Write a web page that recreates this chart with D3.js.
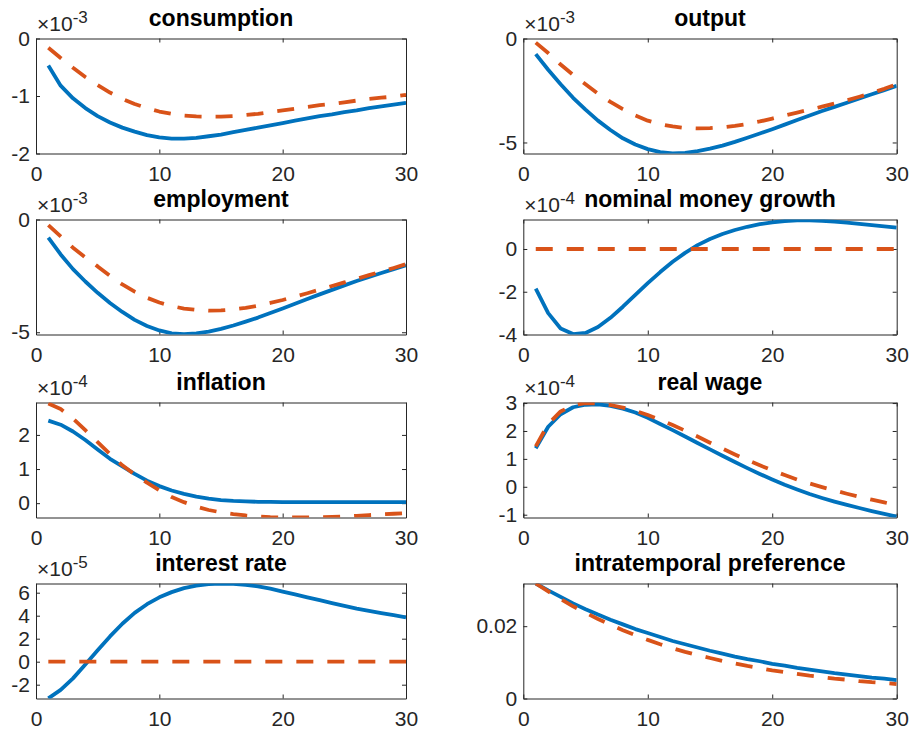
<!DOCTYPE html>
<html>
<head>
<meta charset="utf-8">
<script src="https://cdn.jsdelivr.net/npm/d3@7"></script>
<style>
  body { margin: 0; background: #ffffff; }
  svg { display: block; font-family: "Liberation Sans", Arial, Helvetica, sans-serif; }
</style>
</head>
<body>
<svg id="fig" width="910" height="731"></svg>
<script>
// Impulse responses over 30 periods, two model variants per panel
const periods = [1,2,3,4,5,6,7,8,9,10,11,12,13,14,15,16,17,18,19,20,21,22,23,24,25,26,27,28,29,30];
const xTicks = [0, 10, 20, 30];

const panelTitles = ["consumption", "output", "employment", "nominal money growth",
                     "inflation", "real wage", "interest rate", "intratemporal preference"];
// power-of-ten multiplier shown above each y axis (null = none)
const exponents = [-3, -3, -3, -4, -4, -4, -5, null];
const yLimits = [[-2, 0], [-5.53, 0], [-5.1, 0], [-4.0, 1.38],
                 [-0.42, 2.95], [-1.1, 3.02], [-3.2, 6.8], [0, 0.0318]];
const yTicks = [[-2, -1, 0], [-5, 0], [-5, 0], [-4, -2, 0],
                [0, 1, 2], [-1, 0, 1, 2, 3], [-2, 0, 2, 4, 6], [0, 0.02]];

// solid = first variant, dashed = second variant (values in axis units)
const consumptionSolid = [-0.47,-0.82,-1.04,-1.21,-1.35,-1.46,-1.55,-1.62,-1.68,-1.72,-1.74,-1.74,-1.73,-1.70,-1.67,-1.63,-1.59,-1.55,-1.51,-1.47,-1.43,-1.39,-1.35,-1.32,-1.28,-1.25,-1.21,-1.18,-1.15,-1.12];
const consumptionDashed = [-0.16,-0.34,-0.51,-0.67,-0.81,-0.94,-1.05,-1.14,-1.21,-1.27,-1.31,-1.34,-1.355,-1.36,-1.36,-1.35,-1.33,-1.31,-1.28,-1.25,-1.22,-1.19,-1.16,-1.14,-1.11,-1.08,-1.05,-1.03,-1.01,-0.98];

const outputSolid = [-0.75,-1.5,-2.2,-2.85,-3.42,-3.95,-4.4,-4.8,-5.1,-5.32,-5.46,-5.52,-5.5,-5.42,-5.3,-5.15,-4.97,-4.77,-4.57,-4.36,-4.14,-3.92,-3.7,-3.49,-3.29,-3.09,-2.88,-2.68,-2.48,-2.28];
const outputDashed = [-0.2,-0.7,-1.25,-1.75,-2.2,-2.65,-3.05,-3.4,-3.7,-3.95,-4.12,-4.23,-4.3,-4.32,-4.31,-4.27,-4.2,-4.11,-3.99,-3.85,-3.7,-3.56,-3.42,-3.28,-3.13,-2.97,-2.8,-2.62,-2.42,-2.2];

const employmentSolid = [-0.8,-1.55,-2.2,-2.75,-3.25,-3.7,-4.1,-4.45,-4.72,-4.92,-5.05,-5.08,-5.05,-4.97,-4.85,-4.7,-4.53,-4.35,-4.15,-3.95,-3.74,-3.53,-3.32,-3.12,-2.92,-2.73,-2.55,-2.37,-2.2,-2.03];
const employmentDashed = [-0.25,-0.75,-1.25,-1.68,-2.08,-2.5,-2.88,-3.2,-3.47,-3.68,-3.84,-3.95,-4.01,-4.04,-4.03,-3.99,-3.92,-3.82,-3.7,-3.57,-3.42,-3.27,-3.11,-2.95,-2.79,-2.63,-2.47,-2.31,-2.15,-1.98];

const moneyGrowthSolid = [-1.85,-3.0,-3.72,-3.98,-3.93,-3.65,-3.22,-2.7,-2.15,-1.6,-1.08,-0.6,-0.18,0.18,0.47,0.7,0.89,1.04,1.16,1.25,1.31,1.34,1.34,1.32,1.28,1.23,1.18,1.12,1.06,1.0];
const moneyGrowthDashed = [0,0,0,0,0,0,0,0,0,0,0,0,0,0,0,0,0,0,0,0,0,0,0,0,0,0,0,0,0,0];

const inflationSolid = [2.42,2.3,2.1,1.85,1.57,1.3,1.08,0.86,0.66,0.5,0.37,0.27,0.19,0.13,0.09,0.065,0.05,0.04,0.035,0.03,0.03,0.03,0.03,0.03,0.03,0.03,0.03,0.03,0.03,0.03];
const inflationDashed = [2.92,2.76,2.48,2.14,1.79,1.44,1.11,0.84,0.6,0.38,0.18,0.03,-0.1,-0.2,-0.27,-0.32,-0.36,-0.39,-0.41,-0.42,-0.42,-0.42,-0.41,-0.4,-0.39,-0.37,-0.35,-0.33,-0.31,-0.29];

const realWageSolid = [1.38,2.15,2.6,2.85,2.94,2.95,2.9,2.8,2.66,2.47,2.25,2.03,1.8,1.57,1.34,1.11,0.89,0.67,0.46,0.26,0.07,-0.1,-0.26,-0.4,-0.53,-0.65,-0.76,-0.87,-0.97,-1.07];
const realWageDashed = [1.45,2.25,2.7,2.92,3.0,2.98,2.93,2.84,2.72,2.57,2.4,2.21,2.01,1.8,1.58,1.37,1.16,0.96,0.77,0.59,0.42,0.26,0.12,-0.01,-0.13,-0.25,-0.36,-0.46,-0.56,-0.66];

const interestSolid = [-3.19,-2.45,-1.45,-0.25,1.0,2.2,3.3,4.25,5.0,5.6,6.05,6.4,6.62,6.75,6.8,6.77,6.68,6.55,6.35,6.1,5.85,5.6,5.35,5.1,4.85,4.62,4.42,4.22,4.04,3.86];
const interestDashed = [0,0,0,0,0,0,0,0,0,0,0,0,0,0,0,0,0,0,0,0,0,0,0,0,0,0,0,0,0,0];

const preferenceSolid = [0.0318,0.0299,0.0281,0.0263,0.0247,0.0232,0.0218,0.0205,0.0192,0.0181,0.0170,0.0159,0.0150,0.0141,0.0132,0.0124,0.0116,0.0109,0.0103,0.0096,0.0091,0.0085,0.0080,0.0075,0.0070,0.0066,0.0062,0.0058,0.0055,0.0051];
const preferenceDashed = [0.0318,0.0296,0.0275,0.0255,0.0237,0.0220,0.0204,0.0189,0.0175,0.0162,0.0150,0.0139,0.0129,0.0120,0.0112,0.0104,0.0097,0.0090,0.0084,0.0078,0.0073,0.0068,0.0063,0.0059,0.0055,0.0052,0.0048,0.0045,0.0043,0.0040];

const solidSeries = [consumptionSolid, outputSolid, employmentSolid, moneyGrowthSolid,
                     inflationSolid, realWageSolid, interestSolid, preferenceSolid];
const dashedSeries = [consumptionDashed, outputDashed, employmentDashed, moneyGrowthDashed,
                      inflationDashed, realWageDashed, interestDashed, preferenceDashed];

// ---- layout: 4 rows x 2 columns of boxed axes ----
const colLeft = [36, 523.3];
const colRight = [406, 896.7];
const rowTop = [38.5, 219.5, 402.5, 583.5];
const axH = 115;

const axisColor = "#262626";
const blue = "#0072BD";
const orange = "#D95319";
const tickLen = 4;

const svg = d3.select("#fig");
const defs = svg.append("defs");

function styleAxis(g, withLabels) {
  g.attr("font-family", null).attr("font-size", null);
  g.select(".domain").attr("stroke", axisColor).attr("stroke-width", 1);
  g.selectAll(".tick line").attr("stroke", axisColor).attr("stroke-width", 1);
  g.selectAll(".tick text")
    .attr("fill", axisColor)
    .style("font-size", "21px");
  if (!withLabels) g.selectAll(".tick text").remove();
}

function fmt(v) {
  return String(v);
}

panelTitles.forEach((title, i) => {
  const col = i % 2, row = Math.floor(i / 2);
  const x0 = colLeft[col], x1 = colRight[col];
  const y0 = rowTop[row], y1 = y0 + axH;

  const x = d3.scaleLinear().domain([0, 30]).range([x0, x1]);
  const y = d3.scaleLinear().domain(yLimits[i]).range([y1, y0]);

  const panel = svg.append("g").attr("class", "panel");

  // box with inward ticks on all four sides
  panel.append("g").attr("transform", `translate(0,${y1})`)
    .call(d3.axisBottom(x).tickValues(xTicks).tickFormat(fmt)
      .tickSizeInner(-tickLen).tickSizeOuter(0).tickPadding(13))
    .call(g => styleAxis(g, true));
  panel.append("g").attr("transform", `translate(0,${y0})`)
    .call(d3.axisTop(x).tickValues(xTicks).tickFormat("")
      .tickSizeInner(-tickLen).tickSizeOuter(0))
    .call(g => styleAxis(g, false));
  panel.append("g").attr("transform", `translate(${x0},0)`)
    .call(d3.axisLeft(y).tickValues(yTicks[i]).tickFormat(fmt)
      .tickSizeInner(-tickLen).tickSizeOuter(0).tickPadding(6))
    .call(g => styleAxis(g, true));
  panel.append("g").attr("transform", `translate(${x1},0)`)
    .call(d3.axisRight(y).tickValues(yTicks[i]).tickFormat("")
      .tickSizeInner(-tickLen).tickSizeOuter(0))
    .call(g => styleAxis(g, false));

  // clip the curves to the axes box
  const clipId = `clip-${i}`;
  defs.append("clipPath").attr("id", clipId)
    .append("rect").attr("x", x0).attr("y", y0)
    .attr("width", x1 - x0).attr("height", y1 - y0);

  const line = d3.line()
    .x((d, k) => x(periods[k]))
    .y(d => y(d));

  const plot = panel.append("g").attr("clip-path", `url(#${clipId})`);
  plot.append("path")
    .datum(solidSeries[i])
    .attr("d", line)
    .attr("fill", "none")
    .attr("stroke", blue)
    .attr("stroke-width", 3.8)
    .attr("stroke-linejoin", "round");
  plot.append("path")
    .datum(dashedSeries[i])
    .attr("d", line)
    .attr("fill", "none")
    .attr("stroke", orange)
    .attr("stroke-width", 3.8)
    .attr("stroke-linejoin", "round")
    .attr("stroke-dasharray", "17,14");

  // title
  panel.append("text")
    .attr("x", (x0 + x1) / 2)
    .attr("y", y0 - 12.5)
    .attr("text-anchor", "middle")
    .attr("font-weight", "bold")
    .attr("font-size", 23)
    .attr("fill", "#000")
    .text(title);

  // exponent multiplier
  if (exponents[i] !== null) {
    const t = panel.append("text")
      .attr("x", x0 + 1)
      .attr("y", y0 - 7.5)
      .attr("fill", axisColor)
      .attr("font-size", 21);
    t.append("tspan").text("×10");
    t.append("tspan")
      .attr("dy", -8)
      .attr("font-size", 17)
      .text(String(exponents[i]));
  }
});
</script>
</body>
</html>
